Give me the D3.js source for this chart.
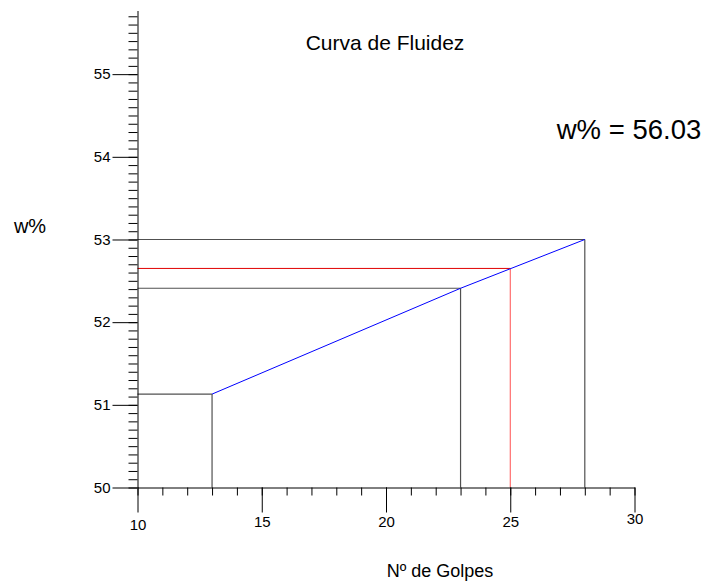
<!DOCTYPE html>
<html>
<head>
<meta charset="utf-8">
<script src="https://cdn.jsdelivr.net/npm/d3@7"></script>
<style>
  html, body { margin: 0; padding: 0; background: #fff; }
  svg { display: block; }
  text { font-family: "Liberation Sans", Arial, sans-serif; fill: #000; }
</style>
</head>
<body>
<svg id="chart" width="708" height="582"></svg>
<script>
// ---- data ----
const golpes = [13, 23, 28];             // Nº de golpes
const humedad = [51.13, 52.41, 53.0];    // w%
const golpesRef = [25];                  // reference blows
const humedadRef = [52.65];              // w% at 25 blows
const xMajorTicks = [10, 15, 20, 25, 30];
const xMinorTicks = d3.range(10, 31, 1);
const yMajorTicks = [50, 51, 52, 53, 54, 55];
const yMinorTicks = d3.range(500, 558, 1).map(d => d / 10);
const titleText = "Curva de Fluidez";
const xLabel = "Nº de Golpes";
const yLabel = "w%";
const resultText = "w% = 56.03";

const svg = d3.select("#chart");
const x = d3.scaleLinear().domain([10, 30]).range([137.5, 634.5]);
const y = d3.scaleLinear().domain([50, 55.77]).range([487.5, 10.5]);

// reference lines (gray) from points to axes
const g = svg.append("g");
golpes.forEach((gx, i) => {
  g.append("line").attr("x1", x(10)).attr("x2", x(gx))
    .attr("y1", y(humedad[i])).attr("y2", y(humedad[i]))
    .attr("stroke", "#505050").attr("stroke-width", 1.2);
  g.append("line").attr("x1", x(gx)).attr("x2", x(gx))
    .attr("y1", y(humedad[i])).attr("y2", y(50))
    .attr("stroke", "#505050").attr("stroke-width", 1.2);
});

// red reference at 25 blows
g.append("line").attr("x1", x(10)).attr("x2", x(golpesRef[0]))
  .attr("y1", y(humedadRef[0])).attr("y2", y(humedadRef[0]))
  .attr("stroke", "#e00000").attr("stroke-width", 1);
g.append("line").attr("x1", x(golpesRef[0])).attr("x2", x(golpesRef[0]))
  .attr("y1", y(humedadRef[0])).attr("y2", y(50))
  .attr("stroke", "#ff5050").attr("stroke-width", 1);

// blue curve
const line = d3.line().x(d => x(d[0])).y(d => y(d[1]));
g.append("path").datum(golpes.map((d, i) => [d, humedad[i]]))
  .attr("d", line).attr("fill", "none")
  .attr("stroke", "#0000ff").attr("stroke-width", 1);

// x axis
const xMinor = svg.append("g").attr("transform", `translate(0,${y(50)})`)
  .call(d3.axisBottom(x).tickValues(xMinorTicks).tickSize(8).tickSizeOuter(0).tickFormat(""));
const xMajor = svg.append("g").attr("transform", `translate(0,${y(50)})`)
  .call(d3.axisBottom(x).tickValues(xMajorTicks).tickSize(25).tickSizeOuter(0).tickPadding(3).tickFormat(d3.format("d")));
xMajor.selectAll(".domain").remove();
xMajor.selectAll("text").attr("font-size", 15).attr("font-family", "Liberation Sans, Arial, sans-serif")
  .attr("dy", (d) => d === 10 ? "0.95em" : d === 30 ? "0.55em" : "0.75em");

// y axis
const yMinor = svg.append("g").attr("transform", `translate(${x(10)},0)`)
  .call(d3.axisLeft(y).tickValues(yMinorTicks).tickSize(9).tickSizeOuter(0).tickFormat(""));
const yMajor = svg.append("g").attr("transform", `translate(${x(10)},0)`)
  .call(d3.axisLeft(y).tickValues(yMajorTicks).tickSize(25).tickSizeOuter(0).tickPadding(2).tickFormat(d3.format("d")));
yMajor.selectAll(".domain").remove();
yMajor.selectAll("text").attr("font-size", 15).attr("font-family", "Liberation Sans, Arial, sans-serif");
svg.selectAll(".tick line").attr("stroke", "#000");
svg.selectAll(".domain").attr("stroke", "#000");
svg.selectAll(".tick text").attr("fill", "#000");

// texts
svg.append("text").attr("x", 385).attr("y", 50).attr("text-anchor", "middle")
  .attr("font-size", 21).text(titleText);
svg.append("text").attr("x", 30).attr("y", 233).attr("text-anchor", "middle")
  .attr("font-size", 20).text(yLabel);
svg.append("text").attr("x", 440).attr("y", 577).attr("text-anchor", "middle")
  .attr("font-size", 18).text(xLabel);
svg.append("text").attr("x", 629).attr("y", 139).attr("text-anchor", "middle")
  .attr("font-size", 27.5).text(resultText);
</script>
</body>
</html>
